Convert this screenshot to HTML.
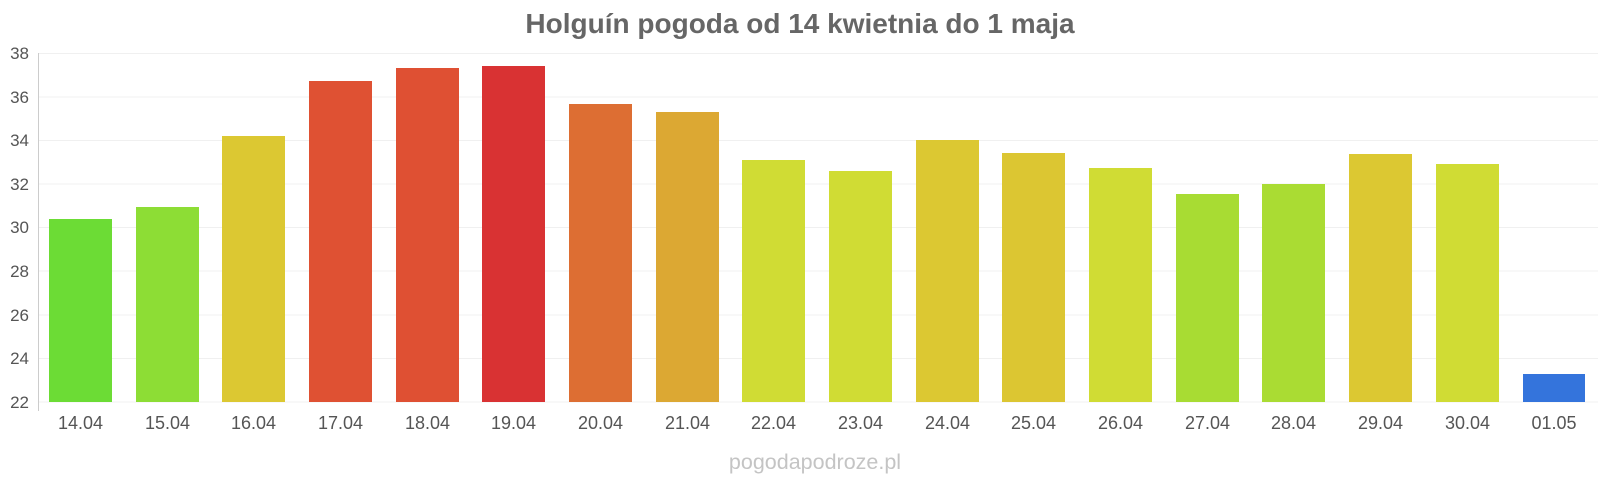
<!DOCTYPE html>
<html><head><meta charset="utf-8"><style>body{margin:0;background:#fff}svg{display:block}</style></head><body>
<svg width="1600" height="480" xmlns="http://www.w3.org/2000/svg" font-family="Liberation Sans, sans-serif">
<text x="800" y="33" text-anchor="middle" font-size="28" font-weight="bold" fill="#666">Holguín pogoda od 14 kwietnia do 1 maja</text>
<g stroke="#f0f0f0" stroke-width="1">
<line x1="39" x2="1598" y1="53.5" y2="53.5"/><line x1="39" x2="1598" y1="97" y2="97"/><line x1="39" x2="1598" y1="140.5" y2="140.5"/><line x1="39" x2="1598" y1="184" y2="184"/><line x1="39" x2="1598" y1="227.5" y2="227.5"/><line x1="39" x2="1598" y1="271" y2="271"/><line x1="39" x2="1598" y1="315" y2="315"/><line x1="39" x2="1598" y1="358.5" y2="358.5"/><line x1="39" x2="1598" y1="402" y2="402"/>
</g>
<line x1="38.5" x2="38.5" y1="53" y2="411" stroke="#ccc"/>
<g font-size="17" fill="#555" text-anchor="end">
<text x="29" y="59">38</text><text x="29" y="103">36</text><text x="29" y="146">34</text><text x="29" y="190">32</text><text x="29" y="233">30</text><text x="29" y="277">28</text><text x="29" y="321">26</text><text x="29" y="364">24</text><text x="29" y="408">22</text>
</g>
<g>
<rect x="49" y="219" width="63" height="183" fill="#6cdc35"/>
<rect x="136" y="207" width="63" height="195" fill="#8ddd35"/>
<rect x="222" y="136" width="63" height="266" fill="#dcc832"/>
<rect x="309" y="81" width="63" height="321" fill="#df5133"/>
<rect x="396" y="68" width="63" height="334" fill="#df5033"/>
<rect x="482" y="66" width="63" height="336" fill="#d93233"/>
<rect x="569" y="104" width="63" height="298" fill="#dd6e33"/>
<rect x="656" y="112" width="63" height="290" fill="#dca833"/>
<rect x="742" y="160" width="63" height="242" fill="#d0dc34"/>
<rect x="829" y="171" width="63" height="231" fill="#d0dc34"/>
<rect x="916" y="140" width="63" height="262" fill="#dcc832"/>
<rect x="1002" y="153" width="63" height="249" fill="#dcc632"/>
<rect x="1089" y="168" width="63" height="234" fill="#d0dc34"/>
<rect x="1176" y="194" width="63" height="208" fill="#a8dc33"/>
<rect x="1262" y="184" width="63" height="218" fill="#aadc33"/>
<rect x="1349" y="154" width="63" height="248" fill="#dcc832"/>
<rect x="1436" y="164" width="63" height="238" fill="#d0dc34"/>
<rect x="1523" y="374" width="62" height="28" fill="#3474dc"/>
</g>
<g font-size="18" fill="#555" text-anchor="middle">
<text x="80.5" y="429">14.04</text><text x="167.5" y="429">15.04</text><text x="253.5" y="429">16.04</text><text x="340.5" y="429">17.04</text><text x="427.5" y="429">18.04</text><text x="513.5" y="429">19.04</text><text x="600.5" y="429">20.04</text><text x="687.5" y="429">21.04</text><text x="773.5" y="429">22.04</text><text x="860.5" y="429">23.04</text><text x="947.5" y="429">24.04</text><text x="1033.5" y="429">25.04</text><text x="1120.5" y="429">26.04</text><text x="1207.5" y="429">27.04</text><text x="1293.5" y="429">28.04</text><text x="1380.5" y="429">29.04</text><text x="1467.5" y="429">30.04</text><text x="1554" y="429">01.05</text>
</g>
<text x="815" y="469" text-anchor="middle" font-size="21.5" fill="#c4c4c4">pogodapodroze.pl</text>
</svg>
</body></html>
